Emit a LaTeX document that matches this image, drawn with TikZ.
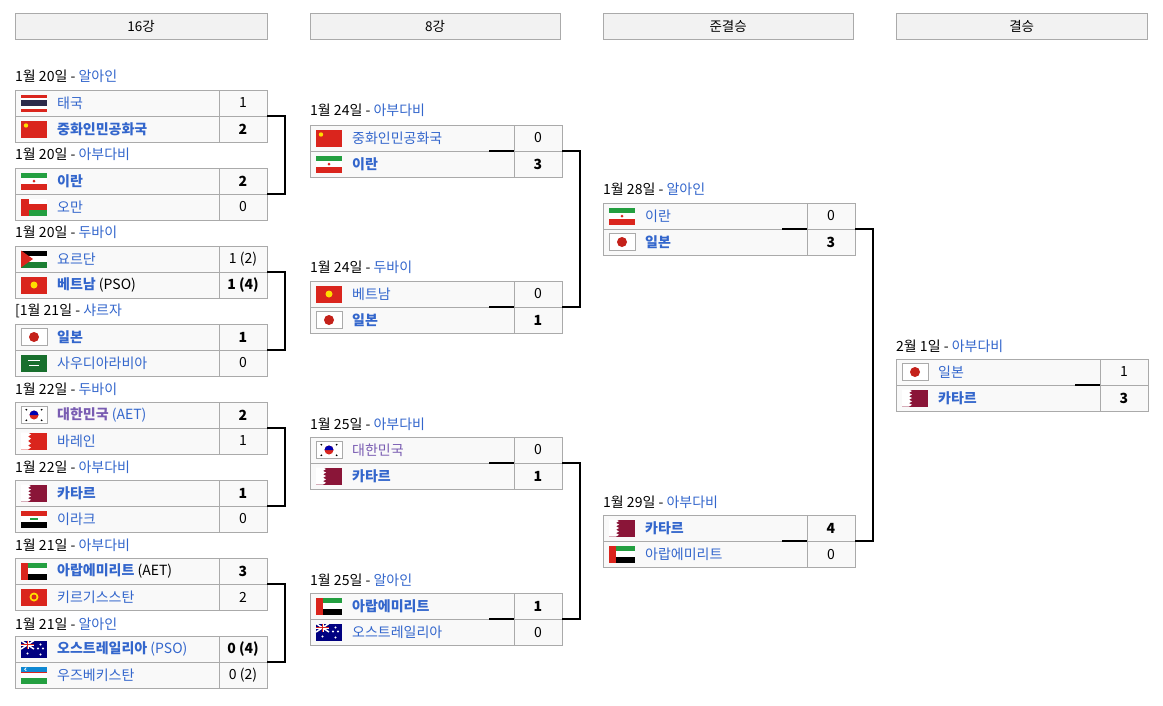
\documentclass[tikz,border=0pt]{standalone}
\usepackage{fontspec}
\setmainfont{Noto Sans CJK KR}
\definecolor{lnk}{HTML}{3366CC}
\definecolor{vis}{HTML}{795CB2}
\definecolor{bd}{HTML}{AAAAAA}
\definecolor{cell}{HTML}{F9F9F9}
\definecolor{hd}{HTML}{F2F2F2}
\definecolor{fr}{HTML}{DA251D}
\definecolor{fg}{HTML}{239F40}
\definecolor{fy}{HTML}{FFDE00}
\definecolor{fb}{HTML}{2D2A4A}
\definecolor{qm}{HTML}{8A1538}
\tikzset{x=1pt,y=-1pt,
 namebox/.style={draw=bd,fill=cell,minimum width=204pt,minimum height=26pt,inner sep=0pt,outer sep=0pt,anchor=north west},
 scorebox/.style={draw=bd,fill=cell,minimum width=48pt,minimum height=26pt,inner sep=0pt,outer sep=0pt,anchor=west,font=\fontsize{14pt}{16pt}\selectfont},
 hdbox/.style={draw=bd,fill=hd,minimum width=252pt,minimum height=26pt,inner sep=0pt,anchor=north west,font=\fontsize{13.5pt}{16pt}\selectfont},
 txt/.style={anchor=west,inner sep=0pt,font=\fontsize{14pt}{16pt}\selectfont},
 conn/.style={draw=black,line width=2pt}}
% flags, local 0..26 x 0..17
\newcommand{\fTH}{\fill[fr](0,0)rectangle(26,17);\fill[white](0,3)rectangle(26,14);\fill[fb](0,5.7)rectangle(26,11.3);}
\newcommand{\fCN}{\fill[fr](0,0)rectangle(26,17);\fill[fy](5,5)circle(2.2);}
\newcommand{\fVN}{\fill[fr](0,0)rectangle(26,17);\fill[fy](13,8.5)circle(3.5);}
\newcommand{\fIR}{\fill[fg](0,0)rectangle(26,5.7);\fill[white](0,5.7)rectangle(26,11.3);\fill[fr](0,11.3)rectangle(26,17);\fill[fr](13,8.5)circle(1.5);}
\newcommand{\fOM}{\fill[white](0,0)rectangle(26,5.7);\fill[fr](0,5.7)rectangle(26,11.3);\fill[fg](0,11.3)rectangle(26,17);\fill[fr](0,0)rectangle(8,17);}
\newcommand{\fJO}{\fill[black](0,0)rectangle(26,5.7);\fill[white](0,5.7)rectangle(26,11.3);\fill[fg!80!black](0,11.3)rectangle(26,17);\fill[fr](0,0)--(12,8.5)--(0,17)--cycle;}
\newcommand{\fJP}{\fill[white](0,0)rectangle(26,17);\draw[bd,line width=0.4pt](0,0)rectangle(26,17);\fill[fr!90!black](13,8.5)circle(5);}
\newcommand{\fSA}{\fill[fg!70!black](0,0)rectangle(26,17);\draw[white,line width=0.8pt](7,6)--(19,6);\draw[white,line width=0.8pt](8,11)--(18,11);}
\newcommand{\fKR}{\fill[white](0,0)rectangle(26,17);\draw[bd,line width=0.4pt](0,0)rectangle(26,17);\fill[fr](13,8.5)circle(4.5);\fill[blue!70!black](8.5,8.5)arc(180:360:4.5)--cycle;\foreach\a in{35,145,215,325}{\draw[black,line width=1.2pt]({13+8.5*cos(\a)},{8.5+8.5*sin(\a)})--++({1.6*cos(\a)},{1.6*sin(\a)});}}
\newcommand{\fBH}{\fill[fr](0,0)rectangle(26,17);\fill[white](0,0)--(7,0)--(10,2)--(7,4)--(10,6)--(7,8.5)--(10,11)--(7,13)--(10,15)--(7,17)--(0,17)--cycle;}
\newcommand{\fQA}{\fill[qm](0,0)rectangle(26,17);\fill[white](0,0)--(7,0)--(10,1.5)--(7,3.4)--(10,5.1)--(7,6.8)--(10,8.5)--(7,10.2)--(10,11.9)--(7,13.6)--(10,15.3)--(7,17)--(0,17)--cycle;}
\newcommand{\fIQ}{\fill[fr](0,0)rectangle(26,5.7);\fill[white](0,5.7)rectangle(26,11.3);\fill[black](0,11.3)rectangle(26,17);\fill[fg](9,7.5)rectangle(17,9.5);}
\newcommand{\fAE}{\fill[fg](0,0)rectangle(26,5.7);\fill[white](0,5.7)rectangle(26,11.3);\fill[black](0,11.3)rectangle(26,17);\fill[fr](0,0)rectangle(7,17);}
\newcommand{\fKG}{\fill[fr](0,0)rectangle(26,17);\fill[fy](13,8.5)circle(4.5);\fill[fr](13,8.5)circle(2.5);}
\newcommand{\fAU}{\fill[blue!50!black](0,0)rectangle(26,17);\fill[white](0,0)rectangle(13,8.5);\fill[blue!50!black](0,0)rectangle(13,8.5);\draw[white,line width=1.5pt](0,0)--(13,8.5)(13,0)--(0,8.5);\draw[white,line width=2pt](6.5,0)--(6.5,8.5)(0,4.25)--(13,4.25);\draw[fr,line width=1pt](6.5,0)--(6.5,8.5)(0,4.25)--(13,4.25);\foreach\p in{(6.5,13),(19.5,4),(22,8),(19.5,14),(17,8)}{\fill[white]\p circle(1.1);}}
\newcommand{\fUZ}{\fill[cyan!70!blue](0,0)rectangle(26,5.4);\fill[white](0,5.4)rectangle(26,11.6);\fill[fr](0,5.4)rectangle(26,6);\fill[fr](0,11)rectangle(26,11.6);\fill[fg](0,11.6)rectangle(26,17);\fill[white](5,2.7)circle(1.8);\fill[cyan!70!blue](5.8,2.7)circle(1.5);}
% row: id, x, y, flag, text, score
\newcommand{\trow}[6]{%
 \node[namebox] (#1n) at (#2,#3) {};
 \node[scorebox] (#1s) at (#1n.east) {#6};
 \begin{scope}[shift={(#2+6,#3+4.5)}]#4\end{scope}
 \node[txt] at ([xshift=42pt]#1n.west) {#5};}
\newcommand{\datel}[4]{\node[txt] at (#1,#2) {1월 #3일 - \textcolor{lnk}{#4}};}
\begin{document}
\begin{tikzpicture}
\useasboundingbox[fill=white](0,0)rectangle(1163,705);
\node[hdbox] (h1) at (15,13) {16강};
\node[hdbox,minimum width=250pt] (h2) at (310,13) {8강};
\node[hdbox,minimum width=250pt] (h3) at (603,13) {준결승};
\node[hdbox,minimum width=251pt] (h4) at (896,13) {결승};
% Round of 16
\datel{15}{76}{20}{알아인}
\trow{a1}{15}{90}{\fTH}{\textcolor{lnk}{태국}}{1}
\trow{a2}{15}{116}{\fCN}{\textcolor{lnk}{\textbf{중화인민공화국}}}{\textbf{2}}
\datel{15}{154}{20}{아부다비}
\trow{b1}{15}{168}{\fIR}{\textcolor{lnk}{\textbf{이란}}}{\textbf{2}}
\trow{b2}{15}{194}{\fOM}{\textcolor{lnk}{오만}}{0}
\datel{15}{232}{20}{두바이}
\trow{c1}{15}{246}{\fJO}{\textcolor{lnk}{요르단}}{1 (2)}
\trow{c2}{15}{272}{\fVN}{\textcolor{lnk}{\textbf{베트남}} (PSO)}{\textbf{1 (4)}}
\node[txt] at (15,311) {[1월 21일 - \textcolor{lnk}{샤르자}};
\trow{d1}{15}{324}{\fJP}{\textcolor{lnk}{\textbf{일본}}}{\textbf{1}}
\trow{d2}{15}{350}{\fSA}{\textcolor{lnk}{사우디아라비아}}{0}
\datel{15}{389}{22}{두바이}
\trow{e1}{15}{402}{\fKR}{\textcolor{vis}{\textbf{대한민국}} \textcolor{lnk}{(AET)}}{\textbf{2}}
\trow{e2}{15}{428}{\fBH}{\textcolor{lnk}{바레인}}{1}
\datel{15}{467}{22}{아부다비}
\trow{f1}{15}{480}{\fQA}{\textcolor{lnk}{\textbf{카타르}}}{\textbf{1}}
\trow{f2}{15}{506}{\fIQ}{\textcolor{lnk}{이라크}}{0}
\datel{15}{545}{21}{아부다비}
\trow{g1}{15}{558}{\fAE}{\textcolor{lnk}{\textbf{아랍에미리트}} (AET)}{\textbf{3}}
\trow{g2}{15}{584}{\fKG}{\textcolor{lnk}{키르기스스탄}}{2}
\datel{15}{624}{21}{알아인}
\trow{h1}{15}{636}{\fAU}{\textcolor{lnk}{\textbf{오스트레일리아} (PSO)}}{\textbf{0 (4)}}
\trow{h2}{15}{662}{\fUZ}{\textcolor{lnk}{우즈베키스탄}}{0 (2)}
% QF
\datel{310}{110}{24}{아부다비}
\trow{p1}{310}{125}{\fCN}{\textcolor{lnk}{중화인민공화국}}{0}
\trow{p2}{310}{151}{\fIR}{\textcolor{lnk}{\textbf{이란}}}{\textbf{3}}
\datel{310}{267}{24}{두바이}
\trow{q1}{310}{281}{\fVN}{\textcolor{lnk}{베트남}}{0}
\trow{q2}{310}{307}{\fJP}{\textcolor{lnk}{\textbf{일본}}}{\textbf{1}}
\datel{310}{424}{25}{아부다비}
\trow{r1}{310}{437}{\fKR}{\textcolor{vis}{대한민국}}{0}
\trow{r2}{310}{463}{\fQA}{\textcolor{lnk}{\textbf{카타르}}}{\textbf{1}}
\datel{310}{580}{25}{알아인}
\trow{s1}{310}{593}{\fAE}{\textcolor{lnk}{\textbf{아랍에미리트}}}{\textbf{1}}
\trow{s2}{310}{619}{\fAU}{\textcolor{lnk}{오스트레일리아}}{0}
% SF
\datel{603}{189}{28}{알아인}
\trow{t1}{603}{203}{\fIR}{\textcolor{lnk}{이란}}{0}
\trow{t2}{603}{229}{\fJP}{\textcolor{lnk}{\textbf{일본}}}{\textbf{3}}
\datel{603}{502}{29}{아부다비}
\trow{u1}{603}{515}{\fQA}{\textcolor{lnk}{\textbf{카타르}}}{\textbf{4}}
\trow{u2}{603}{541}{\fAE}{\textcolor{lnk}{아랍에미리트}}{0}
% Final
\node[txt] at (896,346) {2월 1일 - \textcolor{lnk}{아부다비}};
\trow{v1}{896}{359}{\fJP}{\textcolor{lnk}{일본}}{1}
\trow{v2}{896}{385}{\fQA}{\textcolor{lnk}{\textbf{카타르}}}{\textbf{3}}
% connectors
\foreach \m/\n/\q in {a/b/p, c/d/q, e/f/r, g/h/s}{
 \draw[conn] (\m1s.south east) -- ++(18,0) |- (\n1s.south east);
 \draw[conn] (\q1s.south west) -- ++(-25,0);}
\foreach \m/\n/\q in {p/q/t, r/s/u}{
 \draw[conn] (\m1s.south east) -- ++(18,0) |- (\n1s.south east);
 \draw[conn] (\q1s.south west) -- ++(-25,0);}
\draw[conn] (t1s.south east) -- ++(18,0) |- (u1s.south east);
\draw[conn] (v1s.south west) -- ++(-25,0);
\end{tikzpicture}
\end{document}
